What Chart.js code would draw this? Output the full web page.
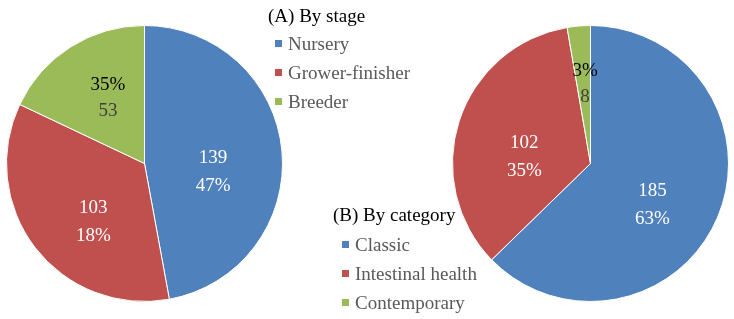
<!DOCTYPE html>
<html>
<head>
<meta charset="utf-8">
<script src="https://cdn.jsdelivr.net/npm/chart.js@4/dist/chart.umd.min.js"></script>
<style>
  html, body { margin: 0; padding: 0; background: #fff; }
  #page { position: relative; width: 734px; height: 319px; overflow: hidden; font-family: "Liberation Serif", "Times New Roman", serif; }
  .pie { position: absolute; top: 25px; width: 277px; height: 277px; }
  .legend { position: absolute; font-size: 19px; color: #595959; white-space: nowrap; }
  .legend .title { color: #000; }
  .legend .item { position: relative; padding-left: 13px; line-height: 29px; }
  .legend .item span.sw { position: absolute; left: 0; top: 11px; width: 7px; height: 7px; }
</style>
</head>
<body>
<div id="page">
  <div class="pie" style="left:6px"><canvas id="stageChart"></canvas></div>
  <div class="pie" style="left:452px"><canvas id="categoryChart"></canvas></div>
  <div class="legend" id="legendA" style="left:268px; top:2px"></div>
  <div class="legend" id="legendB" style="left:333px; top:199px"></div>
</div>
<script>
// (A) By stage
const stageLabels = ["Nursery", "Grower-finisher", "Breeder"];
const stageValues = [139, 103, 53];
const stagePercents = ["47%", "18%", "35%"];

// (B) By category
const categoryLabels = ["Classic", "Intestinal health", "Contemporary"];
const categoryValues = [185, 102, 8];
const categoryPercents = ["63%", "35%", "3%"];

const colors = ["#4F81BD", "#C0504D", "#9BBB59"];

// draws value / percent text inside each slice
const sliceLabels = {
  id: "sliceLabels",
  afterDatasetsDraw(chart, args, opts) {
    const ctx = chart.ctx;
    const meta = chart.getDatasetMeta(0);
    ctx.save();
    ctx.font = "19px 'Liberation Serif', 'Times New Roman', serif";
    ctx.textAlign = "center";
    ctx.textBaseline = "middle";
    meta.data.forEach((arc, i) => {
      const mid = (arc.startAngle + arc.endAngle) / 2;
      const r = arc.outerRadius * 0.55;
      const nudge = opts.nudge[i] || [0, 0];
      const x = arc.x + Math.cos(mid) * r + nudge[0];
      const y = arc.y + Math.sin(mid) * r + nudge[1];
      const lines = opts.lines[i];
      const gap = lines[0].color === "#fff" ? 28 : 26;
      lines.forEach((ln, j) => {
        ctx.fillStyle = ln.color;
        ctx.fillText(ln.text, x, y + (j - 0.5) * gap);
      });
    });
    ctx.restore();
  }
};

function makeLines(values, percents, smallIdx) {
  return values.map((v, i) => {
    if (i === smallIdx) {
      return [{ text: percents[i], color: "#000" }, { text: String(v), color: "#404040" }];
    }
    return [{ text: String(v), color: "#fff" }, { text: percents[i], color: "#fff" }];
  });
}

function makePie(id, labels, values, percents, nudge) {
  return new Chart(document.getElementById(id), {
    type: "pie",
    data: {
      labels,
      datasets: [{
        data: values,
        backgroundColor: colors,
        borderColor: "#fff",
        borderWidth: 1
      }]
    },
    options: {
      responsive: true,
      maintainAspectRatio: false,
      animation: false,
      layout: { padding: 0 },
      plugins: {
        legend: { display: false },
        tooltip: { enabled: false },
        sliceLabels: { lines: makeLines(values, percents, 2), nudge }
      }
    },
    plugins: [sliceLabels]
  });
}

makePie("stageChart", stageLabels, stageValues, stagePercents, [[-7, 15], [9, 12], [4, -1]]);
makePie("categoryChart", categoryLabels, categoryValues, categoryPercents, [[-8, 12], [6, 17], [1, -4]]);

function buildLegend(el, title, labels, titleGap, indent) {
  let html = '<div class="title" style="line-height:' + titleGap + 'px">' + title + '</div>';
  labels.forEach((l, i) => {
    html += '<div class="item" style="margin-left:' + indent + 'px"><span class="sw" style="background:' + colors[i] + '"></span>' + l + '</div>';
  });
  el.innerHTML = html;
}
buildLegend(document.getElementById("legendA"), "(A) By stage", stageLabels, 27, 7);
buildLegend(document.getElementById("legendB"), "(B) By category", categoryLabels, 31, 9);
</script>
</body>
</html>
